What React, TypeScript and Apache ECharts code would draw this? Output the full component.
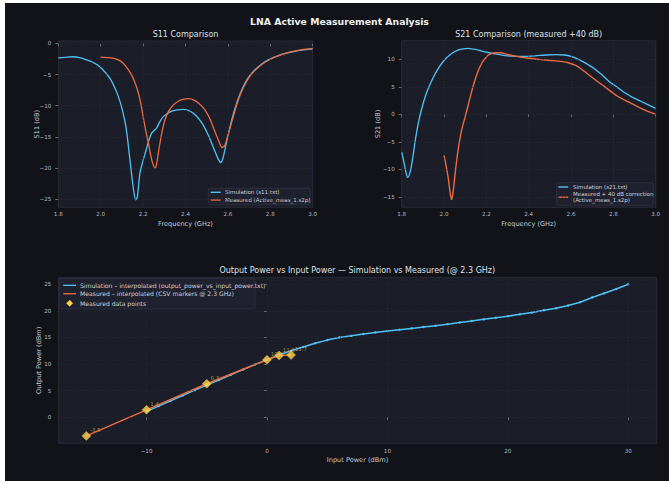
import React, { useEffect, useRef } from "react";
import * as echarts from "echarts";

// ---- S11 (dB) ----
const S11_SIM_FREQ = [
  1.8, 1.84, 1.87, 1.9, 1.93, 1.96, 1.99, 2.02, 2.045, 2.065, 2.083, 2.1, 2.12, 2.138, 2.155, 2.165,
  2.173, 2.185, 2.198, 2.21, 2.225, 2.24, 2.252, 2.265, 2.28, 2.295, 2.33, 2.36, 2.39, 2.42, 2.45,
  2.48, 2.51, 2.535, 2.555, 2.566, 2.576, 2.59, 2.61, 2.63, 2.66, 2.69, 2.72, 2.76, 2.8, 2.85, 2.9,
  2.95, 3.0,
];
const S11_SIM_DB = [
  -2.35, -2.2, -2.15, -2.3, -2.6, -3.0, -3.6, -4.6, -5.7, -7.0, -8.5, -10.4, -13.6, -18.7, -23.5, -25.1,
  -24.6, -20.8, -19.0, -17.6, -15.8, -14.4, -14.0, -13.5, -12.5, -11.75, -10.95, -10.65, -10.6, -10.85, -11.6,
  -12.9, -14.9, -17.0, -18.6, -19.1, -18.5, -16.4, -13.4, -10.8, -7.9, -5.8, -4.5, -3.3, -2.5, -1.8, -1.4,
  -1.1, -0.9,
];
const S11_MEAS_FREQ = [
  2.0, 2.04, 2.07, 2.1, 2.13, 2.146, 2.165, 2.178, 2.19, 2.2, 2.212, 2.225, 2.235, 2.245, 2.256, 2.264,
  2.275, 2.288, 2.3, 2.32, 2.345, 2.37, 2.39, 2.415, 2.44, 2.465, 2.49, 2.515, 2.535, 2.555, 2.572,
  2.585, 2.6, 2.62, 2.64, 2.66, 2.69, 2.72, 2.76, 2.8, 2.85, 2.9, 2.95, 3.0,
];
const S11_MEAS_DB = [
  -2.2, -2.3, -2.5, -3.0, -4.2, -5.1, -6.6, -8.0, -9.8, -11.75, -13.9, -16.0, -17.8, -19.2, -20.0, -19.3,
  -16.9, -14.4, -12.6, -10.9, -9.8, -9.2, -8.95, -8.85, -9.1, -9.7, -10.6, -12.1, -13.8, -15.5, -16.7,
  -16.4, -14.8, -12.4, -10.0, -8.1, -6.0, -4.6, -3.4, -2.55, -1.85, -1.35, -1.0, -0.8,
];

// ---- S21 (dB) ----
const S21_SIM_FREQ = [
  1.8, 1.81, 1.82, 1.828, 1.836, 1.845, 1.855, 1.865, 1.88, 1.9, 1.92, 1.945, 1.97, 2.0, 2.03, 2.06,
  2.09, 2.115, 2.14, 2.17, 2.2, 2.24, 2.28, 2.32, 2.37, 2.43, 2.48, 2.53, 2.57, 2.6, 2.63, 2.66, 2.7,
  2.74, 2.78, 2.82, 2.86, 2.9, 2.95, 3.0,
];
const S21_SIM_DB = [
  -6.8, -8.6, -10.5, -11.5, -11.0, -9.6, -7.2, -4.5, -1.3, 1.8, 4.2, 6.4, 8.2, 9.8, 10.9, 11.6,
  11.9, 12.0, 11.85, 11.6, 11.3, 11.0, 10.75, 10.6, 10.55, 10.65, 10.8, 10.85, 10.8, 10.55, 10.1, 9.5, 8.6,
  7.4, 6.0, 4.9, 3.8, 2.9, 2.0, 1.1,
];
const S21_MEAS_FREQ = [
  2.0, 2.01, 2.02, 2.028, 2.035, 2.042, 2.05, 2.06, 2.07, 2.083, 2.1, 2.115, 2.13, 2.146, 2.16, 2.178,
  2.195, 2.21, 2.24, 2.27, 2.3, 2.35, 2.4, 2.46, 2.52, 2.56, 2.59, 2.62, 2.65, 2.7, 2.76, 2.82, 2.88,
  2.94, 3.0,
];
const S21_MEAS_DB = [
  -7.4, -9.4, -11.6, -14.0, -15.5, -14.4, -11.6, -8.3, -5.6, -2.9, -0.4, 1.8, 4.1, 6.2, 7.8, 9.3,
  10.2, 10.8, 11.2, 11.2, 10.9, 10.5, 10.2, 9.95, 9.75, 9.6, 9.35, 8.95, 8.2, 6.7, 5.0, 3.3, 2.1,
  0.9, 0.0,
];

// ---- Output power vs input power (dBm) ----
const PIN_SIM = [
  -10, -9, -8, -7, -6, -5, -4, -3, -2, -1, 0, 1, 2, 3, 4, 5, 6, 7, 8, 9, 10, 11, 12, 13, 14, 15, 16,
  17, 18, 19, 20, 21, 22, 23, 24, 25, 26, 27, 28, 29, 30,
];
const POUT_SIM = [
  1.1, 2.1, 3.1, 4.1, 5.1, 6.05, 7.0, 8.0, 8.95, 9.9, 10.8, 11.7, 12.5, 13.2, 13.9, 14.5, 15.0, 15.3,
  15.65, 15.95, 16.2, 16.45, 16.7, 16.95, 17.2, 17.5, 17.8, 18.1, 18.4, 18.7, 19.0, 19.35, 19.7, 20.1,
  20.5, 21.0, 21.6, 22.5, 23.3, 24.1, 25.0,
];
const PIN_MEAS = [-15, -10, -5, 0, 1, 2];
const POUT_MEAS = [-3.5, 1.4, 6.3, 10.8, 11.6, 11.7];

// ---- tick values ----
const FREQ_TICKS = [1.8, 2.0, 2.2, 2.4, 2.6, 2.8, 3.0];
const S11_TICKS = [0, -5, -10, -15, -20, -25];
const S21_TICKS = [10, 5, 0, -5, -10, -15];
const PIN_TICKS = [-10, 0, 10, 20, 30];
const POUT_TICKS = [0, 5, 10, 15, 20, 25];

const FONT = "DejaVu Sans";
const BLUE = "#4fc3f7";
const RED = "#ef6a3d";
const GOLD = "#ffd54f";
const FIG_BG = "#111318";
const AX_BG = "#1b1e29";
const AX_EDGE = "#2c303e";
const GRID_LINE = "#2b303e";
const TICK_TEXT = "#b4b8c2";
const LABEL_TEXT = "#c6cad2";
const TITLE_TEXT = "#dfe1e6";

const zip = (xs: number[], ys: number[]) => xs.map((x, i) => [x, ys[i]]);
const fmtMinus = (s: string) => s.replace("-", "\u2212");

function axis(
  gridIndex: number,
  min: number,
  max: number,
  ticks: number[],
  fmt: (v: number) => string,
  name: string,
  nameGap: number,
  margin: number
) {
  return {
    type: "value",
    gridIndex,
    min,
    max,
    name,
    nameLocation: "middle",
    nameGap,
    nameMoveOverlap: false,
    nameTextStyle: { color: LABEL_TEXT, fontSize: 6.6, fontFamily: FONT },
    axisLine: { show: false },
    axisTick: {
      show: true,
      inside: false,
      length: 3,
      customValues: ticks,
      lineStyle: { color: "#7d828f", width: 0.8 },
    },
    axisLabel: {
      customValues: ticks,
      formatter: (v: number) => fmtMinus(fmt(v)),
      color: TICK_TEXT,
      fontSize: 5.6,
      fontFamily: FONT,
      margin,
    },
    splitLine: { show: false },
  };
}

function gridLines(idx: number, xTicks: number[], yTicks: number[]) {
  return {
    type: "line",
    xAxisIndex: idx,
    yAxisIndex: idx,
    data: [],
    silent: true,
    z: 1,
    markLine: {
      silent: true,
      symbol: ["none", "none"],
      label: { show: false },
      lineStyle: { color: GRID_LINE, type: [1.2, 2], width: 0.6 },
      emphasis: { disabled: true },
      data: [...xTicks.map((v) => ({ xAxis: v })), ...yTicks.map((v) => ({ yAxis: v }))],
    },
  };
}

type LegendItem = { kind: "line" | "diamond"; color: string; lines: string[]; y: number };

function legendBox(
  x: number,
  y: number,
  w: number,
  h: number,
  markX: number,
  markW: number,
  textX: number,
  fontSize: number,
  items: LegendItem[]
) {
  const children: any[] = [
    {
      type: "rect",
      shape: { x, y, width: w, height: h, r: 1.5 },
      style: { fill: "#1f2230", stroke: "#363a4b", lineWidth: 0.6, opacity: 0.92 },
    },
  ];
  items.forEach((it) => {
    if (it.kind === "line") {
      children.push({
        type: "line",
        shape: { x1: markX, y1: it.y, x2: markX + markW, y2: it.y },
        style: { stroke: it.color, lineWidth: 1.4 },
      });
    } else {
      const cx = markX + markW / 2;
      const r = 3.2;
      children.push({
        type: "polygon",
        shape: { points: [[cx, it.y - r], [cx + r, it.y], [cx, it.y + r], [cx - r, it.y]] },
        style: { fill: it.color, stroke: "#e0b840", lineWidth: 0.4 },
      });
    }
    const n = it.lines.length;
    it.lines.forEach((t, k) => {
      children.push({
        type: "text",
        x: textX,
        y: it.y + (k - (n - 1) / 2) * 6.2,
        style: {
          text: t,
          fill: "#cfd2d9",
          fontSize,
          fontFamily: FONT,
          align: "left",
          verticalAlign: "middle",
        },
      });
    });
  });
  return { type: "group", children, z: 50 };
}

function titleText(text: string, x: number, y: number, size: number, bold = false) {
  return {
    type: "text",
    x,
    y,
    z: 50,
    style: {
      text,
      fill: bold ? "#eeeeee" : TITLE_TEXT,
      fontSize: size,
      fontWeight: bold ? "bold" : "normal",
      fontFamily: FONT,
      align: "center",
      verticalAlign: "middle",
    },
  };
}

export default function App() {
  const ref = useRef<HTMLDivElement>(null);

  useEffect(() => {
    if (!ref.current) return;
    const chart = echarts.init(ref.current, undefined, { renderer: "svg" });

    const gridBase = {
      show: true,
      backgroundColor: AX_BG,
      borderColor: AX_EDGE,
      borderWidth: 0.8,
      containLabel: false,
    };

    const option: any = {
      animation: false,
      backgroundColor: FIG_BG,
      textStyle: { fontFamily: FONT },
      grid: [
        { ...gridBase, left: 53.3, top: 38, width: 254.4, height: 166.3 },
        { ...gridBase, left: 396.7, top: 37.7, width: 254, height: 166.6 },
        { ...gridBase, left: 53.3, top: 274.3, width: 598.4, height: 166 },
      ],
      xAxis: [
        axis(0, 1.8, 3.0, FREQ_TICKS, (v) => v.toFixed(1), "Frequency (GHz)", 13.4, 4),
        axis(1, 1.8, 3.0, FREQ_TICKS, (v) => v.toFixed(1), "Frequency (GHz)", 13.4, 4),
        axis(2, -17.33, 32.36, PIN_TICKS, (v) => String(Math.round(v)), "Input Power (dBm)", 13.4, 5),
      ],
      yAxis: [
        axis(0, -26.28, 0.37, S11_TICKS, (v) => String(Math.round(v)), "S11 (dB)", 18.3, 7),
        axis(1, -16.9, 13.4, S21_TICKS, (v) => String(Math.round(v)), "S21 (dB)", 20.1, 7),
        axis(2, -4.89, 26.3, POUT_TICKS, (v) => String(Math.round(v)), "Output Power (dBm)", 15.7, 7),
      ],
      series: [
        gridLines(0, FREQ_TICKS, S11_TICKS),
        gridLines(1, FREQ_TICKS, S21_TICKS),
        gridLines(2, PIN_TICKS, POUT_TICKS),
        {
          type: "line",
          name: "Simulation (s11.txt)",
          xAxisIndex: 0,
          yAxisIndex: 0,
          data: zip(S11_SIM_FREQ, S11_SIM_DB),
          smooth: 0.25,
          showSymbol: false,
          lineStyle: { color: BLUE, width: 1.3 },
          z: 3,
        },
        {
          type: "line",
          name: "Measured (Active_meas_1.s2p)",
          xAxisIndex: 0,
          yAxisIndex: 0,
          data: zip(S11_MEAS_FREQ, S11_MEAS_DB),
          smooth: 0.25,
          showSymbol: false,
          lineStyle: { color: RED, width: 1.3 },
          z: 4,
        },
        {
          type: "line",
          name: "Simulation (s21.txt)",
          xAxisIndex: 1,
          yAxisIndex: 1,
          data: zip(S21_SIM_FREQ, S21_SIM_DB),
          smooth: 0.25,
          showSymbol: false,
          lineStyle: { color: BLUE, width: 1.3 },
          z: 3,
        },
        {
          type: "line",
          name: "Measured + 40 dB correction (Active_meas_1.s2p)",
          xAxisIndex: 1,
          yAxisIndex: 1,
          data: zip(S21_MEAS_FREQ, S21_MEAS_DB),
          smooth: 0.25,
          showSymbol: false,
          lineStyle: { color: RED, width: 1.4 },
          z: 4,
        },
        {
          type: "line",
          name: "Simulation – interpolated (output_power_vs_input_power.txt)",
          xAxisIndex: 2,
          yAxisIndex: 2,
          data: zip(PIN_SIM, POUT_SIM),
          showSymbol: true,
          symbol: "circle",
          symbolSize: 2.4,
          itemStyle: { color: BLUE },
          lineStyle: { color: BLUE, width: 1.5 },
          z: 3,
        },
        {
          type: "line",
          name: "Measured – interpolated (CSV markers @ 2.3 GHz)",
          xAxisIndex: 2,
          yAxisIndex: 2,
          data: zip(PIN_MEAS, POUT_MEAS),
          showSymbol: false,
          lineStyle: { color: RED, width: 1.5 },
          z: 4,
        },
        {
          type: "scatter",
          name: "Measured data points",
          xAxisIndex: 2,
          yAxisIndex: 2,
          data: zip(PIN_MEAS, POUT_MEAS),
          symbol: "diamond",
          symbolSize: 9,
          itemStyle: { color: GOLD, borderColor: "#e4b93e", borderWidth: 0.5 },
          label: {
            show: true,
            position: "right",
            distance: 0,
            offset: [-1, -6],
            formatter: (p: any) => p.value[1].toFixed(1),
            color: "#c9ab4c",
            fontSize: 5.4,
            fontFamily: FONT,
          },
          z: 5,
        },
      ],
      graphic: [
        titleText("LNA Active Measurement Analysis", 334.5, 18, 9.3, true),
        titleText("S11 Comparison", 180.5, 31.3, 8),
        titleText("S21 Comparison (measured +40 dB)", 523.7, 31.3, 8),
        titleText("Output Power vs Input Power \u2014 Simulation vs Measured (@ 2.3 GHz)", 352.3, 267.7, 8),
        legendBox(203.3, 185.3, 102, 16.4, 205.7, 10, 220, 5.5, [
          { kind: "line", color: BLUE, lines: ["Simulation (s11.txt)"], y: 189.3 },
          { kind: "line", color: RED, lines: ["Measured (Active_meas_1.s2p)"], y: 197 },
        ]),
        legendBox(551.7, 179.7, 96.6, 22.6, 553.3, 10, 568, 5.5, [
          { kind: "line", color: BLUE, lines: ["Simulation (s21.txt)"], y: 184 },
          {
            kind: "line",
            color: RED,
            lines: ["Measured + 40 dB correction", "(Active_meas_1.s2p)"],
            y: 194.3,
          },
        ]),
        legendBox(54.3, 275.3, 195.7, 30.7, 58.3, 12.7, 75, 6.1, [
          {
            kind: "line",
            color: BLUE,
            lines: ["Simulation \u2013 interpolated (output_power_vs_input_power.txt)"],
            y: 282.3,
          },
          { kind: "line", color: RED, lines: ["Measured \u2013 interpolated (CSV markers @ 2.3 GHz)"], y: 290.7 },
          { kind: "diamond", color: GOLD, lines: ["Measured data points"], y: 300.3 },
        ]),
      ],
    };

    chart.setOption(option);
    return () => chart.dispose();
  }, []);

  return (
    <div style={{ position: "fixed", left: 0, top: 0, width: 669, height: 483, background: "#ffffff" }}>
      <div ref={ref} style={{ position: "absolute", left: 5, top: 3, width: 664, height: 478 }} />
    </div>
  );
}
